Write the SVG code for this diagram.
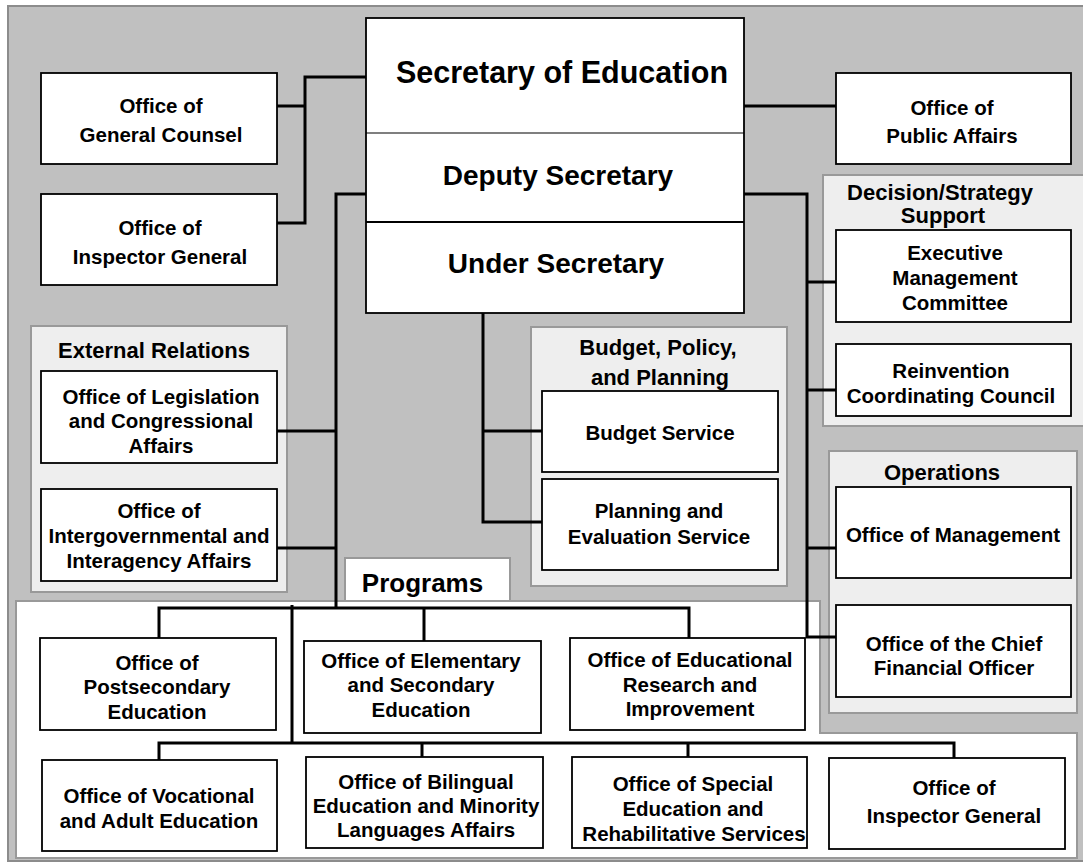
<svg xmlns="http://www.w3.org/2000/svg" width="1083" height="863" viewBox="0 0 1083 863">
<style>
.box{fill:#fff;stroke:#000;stroke-width:1.8}
.panel{fill:#eeeeee;stroke:#999;stroke-width:2}
.wpanel{fill:#fff;stroke:#999;stroke-width:2}
.conn{fill:none;stroke:#000;stroke-width:3}
text{font-family:"Liberation Sans",Arial,sans-serif;font-weight:bold;fill:#000;text-anchor:middle}
.t{font-size:20.5px}
.h{font-size:22px}
</style>
<rect x="8" y="6" width="1090" height="855" fill="#c0c0c0" stroke="#8c8c8c" stroke-width="2"/>

<g id="external-relations">
<rect class="panel" x="31" y="326" width="256" height="266"/>
<text class="h" x="154" y="358">External Relations</text>
</g>
<g id="budget-policy-planning">
<rect class="panel" x="531" y="327" width="256" height="259"/>
<text class="h" x="658" y="355">Budget, Policy,</text>
<text class="h" x="660" y="385">and Planning</text>
</g>
<g id="decision-strategy">
<rect class="panel" x="823" y="175" width="262" height="251"/>
<text class="h" x="940" y="200">Decision/Strategy</text>
<text class="h" x="943" y="223">Support</text>
</g>
<g id="operations">
<rect class="panel" x="829" y="451" width="248" height="262"/>
<text class="h" x="942" y="480">Operations</text>
</g>
<g id="programs">
<path class="wpanel" d="M16,601 H820 V733 H1077 V858 H16 Z"/>
<rect class="wpanel" x="345" y="558" width="165" height="43"/>
<text x="422.5" y="592" font-size="26px">Programs</text>
</g>

<g id="connectors">
<path class="conn" d="M366,77 H305 V223 H277 M277,106 H305"/>
<path class="conn" d="M744,106 H836"/>
<path class="conn" d="M366,194 H336 V608 M277,431 H336 M277,548 H336"/>
<path class="conn" d="M159,638 V608 H689 V638 M424,608 V641"/>
<path class="conn" d="M292,605 V743 M159,760 V743 H954 V758 M422,743 V757 M688,743 V757"/>
<path class="conn" d="M744,194 H807 V637 H836 M807,282 H836 M807,390 H836 M807,548 H836"/>
<path class="conn" d="M483,313 V522 H542 M483,431 H542"/>
</g>

<g id="secretary">
<rect class="box" x="366" y="18" width="378" height="295"/>
<line x1="366" y1="133" x2="744" y2="133" stroke="#000" stroke-width="1.2"/>
<line x1="366" y1="222" x2="744" y2="222" stroke="#000" stroke-width="1.8"/>
<text x="562" y="83" font-size="30.5px">Secretary of Education</text>
<text x="558" y="185" font-size="28px">Deputy Secretary</text>
<text x="556" y="273" font-size="28px">Under Secretary</text>
</g>

<g id="general-counsel">
<rect class="box" x="41" y="73" width="236" height="91"/>
<text class="t" x="161" y="113">Office of</text>
<text class="t" x="161" y="142">General Counsel</text>
</g>
<g id="inspector-general-top">
<rect class="box" x="41" y="194" width="236" height="91"/>
<text class="t" x="160" y="235">Office of</text>
<text class="t" x="160" y="264">Inspector General</text>
</g>
<g id="public-affairs">
<rect class="box" x="836" y="73" width="235" height="91"/>
<text class="t" x="952" y="115">Office of</text>
<text class="t" x="952" y="143">Public Affairs</text>
</g>
<g id="executive-management">
<rect class="box" x="836" y="230" width="235" height="92"/>
<text class="t" x="955" y="260">Executive</text>
<text class="t" x="955" y="285">Management</text>
<text class="t" x="955" y="310">Committee</text>
</g>
<g id="reinvention">
<rect class="box" x="836" y="344" width="235" height="72"/>
<text class="t" x="951" y="378">Reinvention</text>
<text class="t" x="951" y="403">Coordinating Council</text>
</g>
<g id="management">
<rect class="box" x="836" y="487" width="235" height="91"/>
<text class="t" x="953" y="542">Office of Management</text>
</g>
<g id="cfo">
<rect class="box" x="836" y="605" width="235" height="92"/>
<text class="t" x="954" y="651">Office of the Chief</text>
<text class="t" x="954" y="675">Financial Officer</text>
</g>
<g id="legislation">
<rect class="box" x="41" y="371" width="236" height="92"/>
<text class="t" x="161" y="404">Office of Legislation</text>
<text class="t" x="161" y="428">and Congressional</text>
<text class="t" x="161" y="453">Affairs</text>
</g>
<g id="intergovernmental">
<rect class="box" x="41" y="489" width="236" height="92"/>
<text class="t" x="159" y="518">Office of</text>
<text class="t" x="159" y="543">Intergovernmental and</text>
<text class="t" x="159" y="568">Interagency Affairs</text>
</g>
<g id="budget-service">
<rect class="box" x="542" y="391" width="236" height="81"/>
<text class="t" x="660" y="440">Budget Service</text>
</g>
<g id="planning-evaluation">
<rect class="box" x="542" y="479" width="236" height="91"/>
<text class="t" x="659" y="518">Planning and</text>
<text class="t" x="659" y="544">Evaluation Service</text>
</g>
<g id="postsecondary">
<rect class="box" x="40" y="638" width="236" height="92"/>
<text class="t" x="157" y="670">Office of</text>
<text class="t" x="157" y="694">Postsecondary</text>
<text class="t" x="157" y="719">Education</text>
</g>
<g id="elementary-secondary">
<rect class="box" x="304" y="641" width="237" height="92"/>
<text class="t" x="421" y="668">Office of Elementary</text>
<text class="t" x="421" y="692">and Secondary</text>
<text class="t" x="421" y="717">Education</text>
</g>
<g id="educational-research">
<rect class="box" x="570" y="638" width="235" height="92"/>
<text class="t" x="690" y="667">Office of Educational</text>
<text class="t" x="690" y="692">Research and</text>
<text class="t" x="690" y="716">Improvement</text>
</g>
<g id="vocational-adult">
<rect class="box" x="42" y="760" width="235" height="91"/>
<text class="t" x="159" y="803">Office of Vocational</text>
<text class="t" x="159" y="828">and Adult Education</text>
</g>
<g id="bilingual">
<rect class="box" x="306" y="757" width="237" height="91"/>
<text class="t" x="426" y="789">Office of Bilingual</text>
<text class="t" x="426" y="813">Education and Minority</text>
<text class="t" x="426" y="837">Languages Affairs</text>
</g>
<g id="special-education">
<rect class="box" x="572" y="757" width="235" height="91"/>
<text class="t" x="693" y="791">Office of Special</text>
<text class="t" x="693" y="816">Education and</text>
<text class="t" x="694" y="841">Rehabilitative Services</text>
</g>
<g id="inspector-general-bottom">
<rect class="box" x="829" y="758" width="236" height="91"/>
<text class="t" x="954" y="795">Office of</text>
<text class="t" x="954" y="823">Inspector General</text>
</g>
</svg>
